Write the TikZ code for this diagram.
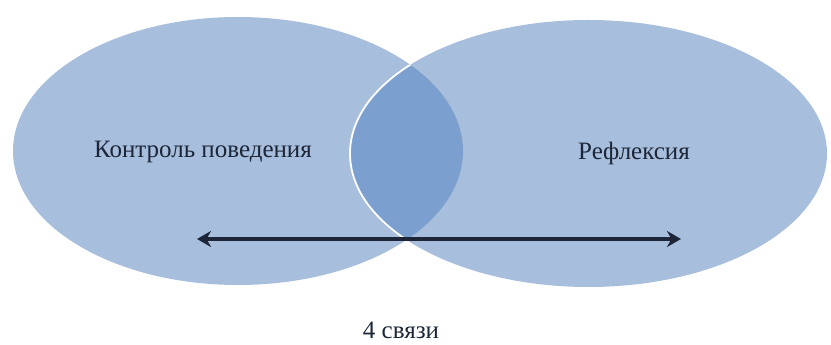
\documentclass[tikz,border=0pt]{standalone}
\usepackage{fontspec}
\setmainfont{Liberation Serif}
\usetikzlibrary{arrows.meta,positioning}
\definecolor{setblue}{HTML}{A7BEDC}
\definecolor{lensblue}{HTML}{7B9FCF}
\definecolor{inkblue}{HTML}{1C2638}
\begin{document}
\begin{tikzpicture}[x=1pt,y=1pt,
 setfill/.style={fill=setblue},
 lensfill/.style={fill=lensblue},
 label/.style={font=\fontsize{25}{29}\selectfont,text=inkblue,inner sep=0pt},
 link/.style={inkblue,line width=3.4pt,{Stealth[length=14pt,width=16pt,inset=4.5pt]}-{Stealth[length=14pt,width=16pt,inset=4.5pt]}}]
\useasboundingbox (0,0) rectangle (831,345);
\coordinate (cL) at (238,194);
\coordinate (cR) at (588.5,191.5);
% both sets
\fill[setfill] (cL) ellipse [x radius=225,y radius=134];
\fill[setfill] (cR) ellipse [x radius=238.5,y radius=133.5];
% overlap
\begin{scope}
 \clip (cL) ellipse [x radius=225,y radius=134];
 \fill[lensfill] (cR) ellipse [x radius=238.5,y radius=133.5];
 \draw[white,line width=1.8pt] (cR) ellipse [x radius=238.5,y radius=133.5];
\end{scope}
\node[label] (ctrl) at (203,193) {Контроль поведения};
\node[label] (refl) at (634,192) {Рефлексия};
\coordinate (arrL) at (197,106);
\coordinate (arrR) at (681,106);
\draw[link] (arrL) -- (arrR);
\node[label,anchor=base] (links) at (401,6) {4 связи};
\end{tikzpicture}
\end{document}
